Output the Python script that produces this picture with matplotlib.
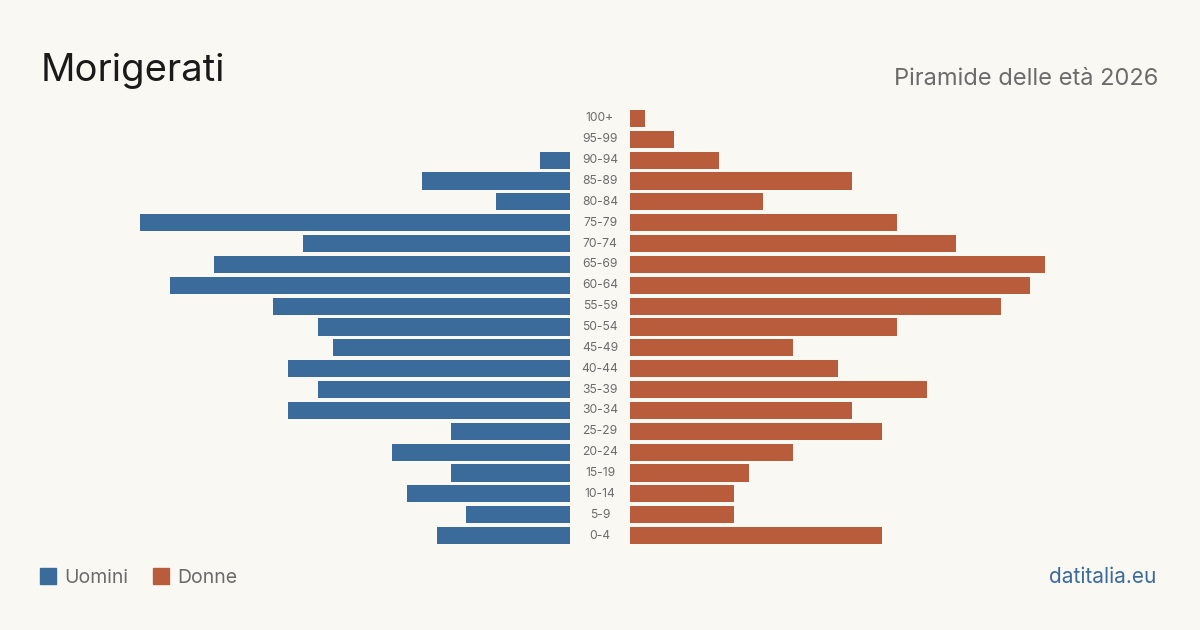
import matplotlib
matplotlib.use("Agg")
import matplotlib.pyplot as plt
from matplotlib.transforms import blended_transform_factory
from matplotlib.patches import Rectangle

age_groups = ["0-4", "5-9", "10-14", "15-19", "20-24", "25-29", "30-34", "35-39",
              "40-44", "45-49", "50-54", "55-59", "60-64", "65-69", "70-74", "75-79",
              "80-84", "85-89", "90-94", "95-99", "100+"]
men = [9, 7, 11, 8, 12, 8, 19, 17, 19, 16, 17, 20, 27, 24, 18, 29, 5, 10, 2, 0, 0]
women = [17, 7, 7, 8, 11, 17, 15, 20, 14, 11, 18, 25, 27, 28, 22, 18, 9, 15, 6, 3, 1]

BG = "#f9f8f3"
MEN_C = "#3b6b9b"
WOMEN_C = "#b95c3c"
FONT = ["Inter", "DejaVu Sans"]
plt.rcParams["font.family"] = FONT

W, H = 1200, 630
fig = plt.figure(figsize=(12, 6.3), dpi=100, facecolor=BG)

top, bottom = 108, 546
xmax = 29
axL = fig.add_axes([140 / W, (H - bottom) / H, 430 / W, (bottom - top) / H])
axR = fig.add_axes([630 / W, (H - bottom) / H, 430 / W, (bottom - top) / H])

ypos = list(range(len(age_groups)))
axL.barh(ypos, men, height=0.82, color=MEN_C)
axR.barh(ypos, women, height=0.82, color=WOMEN_C)
axL.set_xlim(xmax, 0)
axR.set_xlim(0, xmax)
for ax in (axL, axR):
    ax.set_ylim(-0.5, len(age_groups) - 0.5)
    ax.axis("off")
    ax.set_facecolor("none")

tr = blended_transform_factory(fig.transFigure, axR.transData)
for y, lab in zip(ypos, age_groups):
    fig.text(600 / W, y, lab, transform=tr, ha="center", va="center",
             fontsize=8.7, color="#6b6b6b")

fig.text(41 / W, 1 - 81 / H, "Morigerati", fontsize=27.5, color="#1a1a1a",
         ha="left", va="baseline")
fig.text(1158 / W, 1 - 85 / H, "Piramide delle età 2026", fontsize=17,
         color="#6b6b6b", ha="right", va="baseline")

# legend
fig.patches.append(Rectangle((40 / W, 1 - 584 / H), 16 / W, 16 / H,
                             transform=fig.transFigure, color=MEN_C))
fig.text(64 / W, 1 - 583 / H, "Uomini", fontsize=14, color="#6b6b6b",
         ha="left", va="baseline")
fig.patches.append(Rectangle((153 / W, 1 - 584 / H), 16 / W, 16 / H,
                             transform=fig.transFigure, color=WOMEN_C))
fig.text(177 / W, 1 - 583 / H, "Donne", fontsize=14, color="#6b6b6b",
         ha="left", va="baseline")

fig.text(1156 / W, 1 - 583 / H, "datitalia.eu", fontsize=15, color=MEN_C,
         ha="right", va="baseline")

fig.savefig("out.png", dpi=100, facecolor=BG)
